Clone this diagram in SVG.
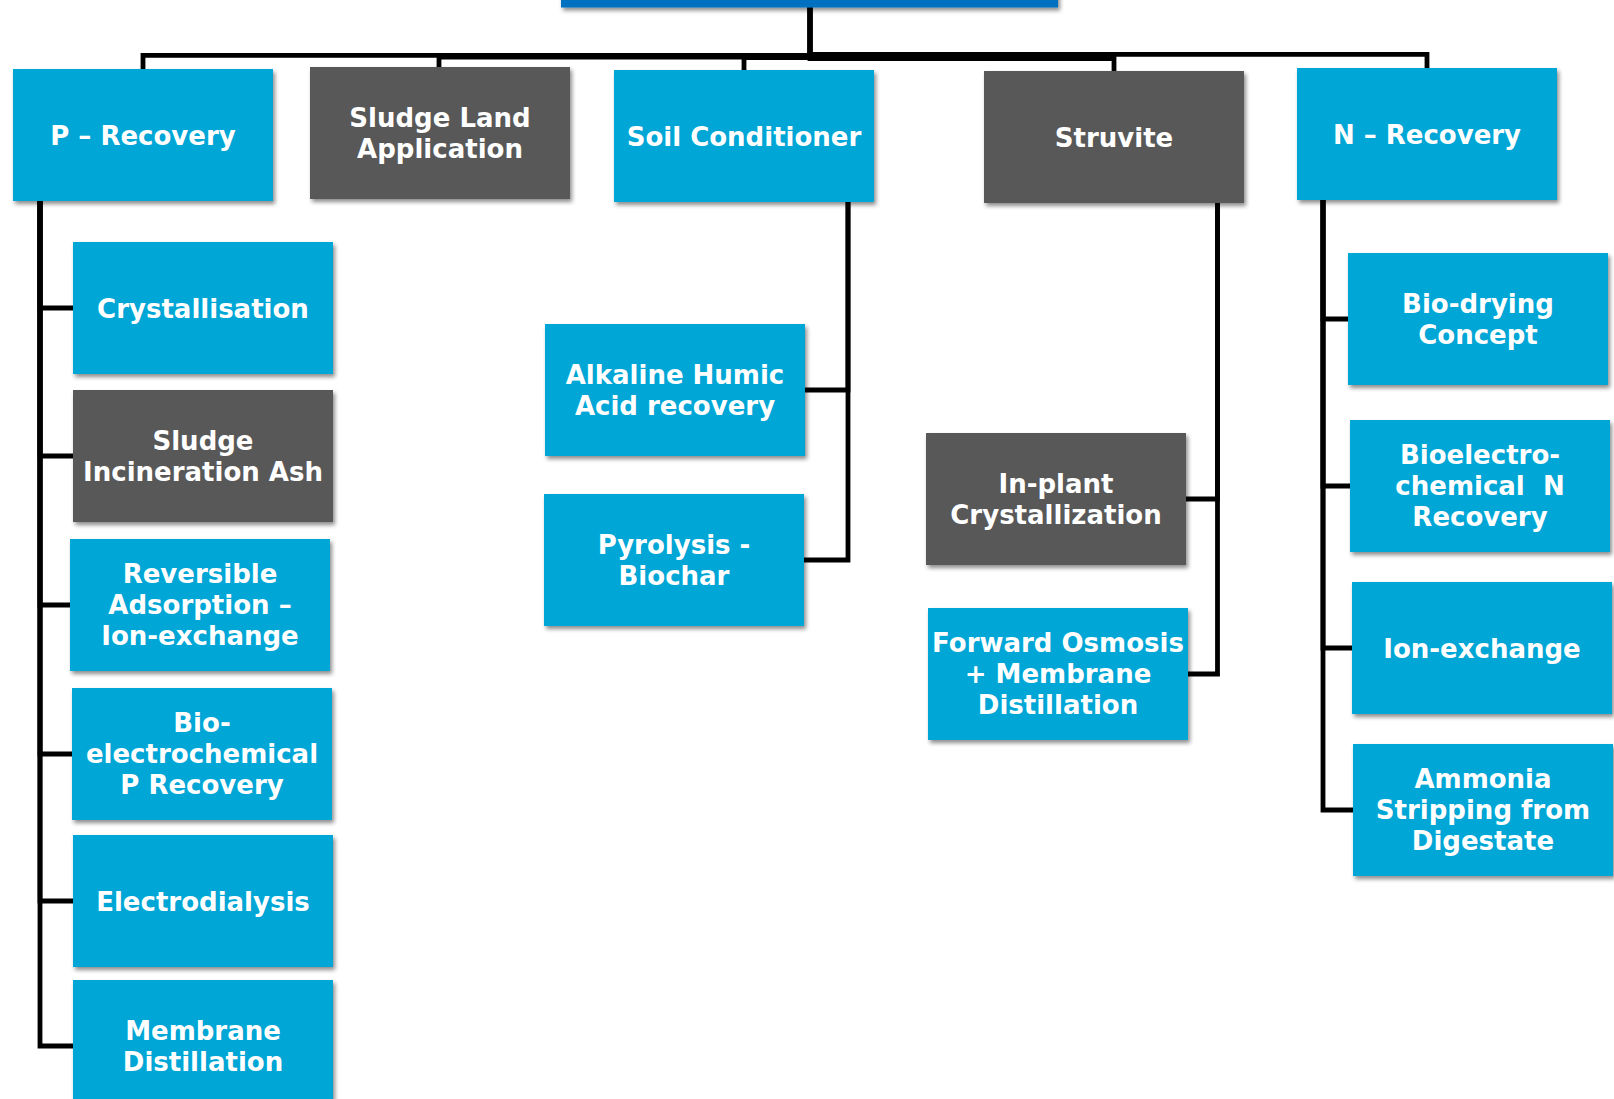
<svg xmlns="http://www.w3.org/2000/svg" width="1614" height="1099" viewBox="0 0 1614 1099">
  <defs>
    <filter id="shadow" x="-10%" y="-10%" width="125%" height="130%">
      <feDropShadow dx="2" dy="3" stdDeviation="2.2" flood-color="#000" flood-opacity="0.45"/>
    </filter>
  </defs>
  <style>
    .box { filter: url(#shadow); }
    .blue { fill: #00A6D6; }
    .grey { fill: #595959; }
    .top { fill: #0070C0; }
    .label { fill: #fff; font-family: "DejaVu Sans", Verdana, sans-serif; font-weight: bold; font-size: 26px; text-anchor: middle; }
    .wire { fill: none; stroke: #000; stroke-width: 4.8; stroke-linejoin: miter; stroke-linecap: butt; }
  </style>

  <!-- connectors -->
  <g id="connectors">
    <!-- root to first level -->
    <path class="wire" d="M810,7 V55.3 H143 V69"/>
    <path class="wire" d="M810,7 V57 H439 V67"/>
    <path class="wire" d="M810,7 V57.5 H744 V70"/>
    <path class="wire" d="M810,7 V58.5 H1114 V71"/>
    <path class="wire" d="M810,7 V54.3 H1427 V68"/>
    <!-- P recovery branch -->
    <path class="wire" d="M40,201 V308 H73"/>
    <path class="wire" d="M40,201 V456 H73"/>
    <path class="wire" d="M40,201 V605 H70"/>
    <path class="wire" d="M40,201 V754 H72"/>
    <path class="wire" d="M40,201 V901 H73"/>
    <path class="wire" d="M40,201 V1046 H73"/>
    <!-- soil conditioner branch -->
    <path class="wire" d="M848,202 V390 H805"/>
    <path class="wire" d="M848,202 V560 H804"/>
    <!-- struvite branch -->
    <path class="wire" d="M1217.5,203 V499 H1186"/>
    <path class="wire" d="M1217.5,203 V674 H1188"/>
    <!-- N recovery branch -->
    <path class="wire" d="M1323,200 V319 H1348"/>
    <path class="wire" d="M1323,200 V486 H1350"/>
    <path class="wire" d="M1323,200 V648 H1352"/>
    <path class="wire" d="M1323,200 V810 H1353"/>
  </g>

  <!-- root -->
  <g id="root">
    <rect class="box top" x="561" y="-120" width="497" height="127.5"/>
  </g>

  <!-- first level -->
  <g id="p-recovery">
    <rect class="box blue" x="13" y="69" width="260" height="132"/>
    <text class="label" x="143" y="144.5">P – Recovery</text>
  </g>
  <g id="sludge-land">
    <rect class="box grey" x="310" y="67" width="260" height="132"/>
    <text class="label" x="440" y="127">Sludge Land</text>
    <text class="label" x="440" y="158">Application</text>
  </g>
  <g id="soil-conditioner">
    <rect class="box blue" x="614" y="70" width="260" height="132"/>
    <text class="label" x="744" y="145.5">Soil Conditioner</text>
  </g>
  <g id="struvite">
    <rect class="box grey" x="984" y="71" width="260" height="132"/>
    <text class="label" x="1114" y="146.5">Struvite</text>
  </g>
  <g id="n-recovery">
    <rect class="box blue" x="1297" y="68" width="260" height="132"/>
    <text class="label" x="1427" y="143.5">N – Recovery</text>
  </g>

  <!-- P recovery children -->
  <g id="crystallisation">
    <rect class="box blue" x="73" y="242" width="260" height="132"/>
    <text class="label" x="203" y="317.5">Crystallisation</text>
  </g>
  <g id="sludge-ash">
    <rect class="box grey" x="73" y="390" width="260" height="132"/>
    <text class="label" x="203" y="450">Sludge</text>
    <text class="label" x="203" y="481">Incineration Ash</text>
  </g>
  <g id="reversible-adsorption">
    <rect class="box blue" x="70" y="539" width="260" height="132"/>
    <text class="label" x="200" y="583">Reversible</text>
    <text class="label" x="200" y="614">Adsorption –</text>
    <text class="label" x="200" y="645">Ion-exchange</text>
  </g>
  <g id="bio-p">
    <rect class="box blue" x="72" y="688" width="260" height="132"/>
    <text class="label" x="202" y="732">Bio-</text>
    <text class="label" x="202" y="763">electrochemical</text>
    <text class="label" x="202" y="794">P Recovery</text>
  </g>
  <g id="electrodialysis">
    <rect class="box blue" x="73" y="835" width="260" height="132"/>
    <text class="label" x="203" y="910.5">Electrodialysis</text>
  </g>
  <g id="membrane-distillation">
    <rect class="box blue" x="73" y="980" width="260" height="132"/>
    <text class="label" x="203" y="1040">Membrane</text>
    <text class="label" x="203" y="1071">Distillation</text>
  </g>

  <!-- soil conditioner children -->
  <g id="humic-acid">
    <rect class="box blue" x="545" y="324" width="260" height="132"/>
    <text class="label" x="675" y="384">Alkaline Humic</text>
    <text class="label" x="675" y="415">Acid recovery</text>
  </g>
  <g id="pyrolysis">
    <rect class="box blue" x="544" y="494" width="260" height="132"/>
    <text class="label" x="674" y="554">Pyrolysis -</text>
    <text class="label" x="674" y="585">Biochar</text>
  </g>

  <!-- struvite children -->
  <g id="in-plant">
    <rect class="box grey" x="926" y="433" width="260" height="132"/>
    <text class="label" x="1056" y="493">In-plant</text>
    <text class="label" x="1056" y="524">Crystallization</text>
  </g>
  <g id="forward-osmosis">
    <rect class="box blue" x="928" y="608" width="260" height="132"/>
    <text class="label" x="1058" y="652">Forward Osmosis</text>
    <text class="label" x="1058" y="683">+ Membrane</text>
    <text class="label" x="1058" y="714">Distillation</text>
  </g>

  <!-- N recovery children -->
  <g id="bio-drying">
    <rect class="box blue" x="1348" y="253" width="260" height="132"/>
    <text class="label" x="1478" y="313">Bio-drying</text>
    <text class="label" x="1478" y="344">Concept</text>
  </g>
  <g id="bio-n">
    <rect class="box blue" x="1350" y="420" width="260" height="132"/>
    <text class="label" x="1480" y="464">Bioelectro-</text>
    <text class="label" x="1480" y="495">chemical&#160; N</text>
    <text class="label" x="1480" y="526">Recovery</text>
  </g>
  <g id="ion-exchange">
    <rect class="box blue" x="1352" y="582" width="260" height="132"/>
    <text class="label" x="1482" y="657.5">Ion-exchange</text>
  </g>
  <g id="ammonia-stripping">
    <rect class="box blue" x="1353" y="744" width="260" height="132"/>
    <text class="label" x="1483" y="788">Ammonia</text>
    <text class="label" x="1483" y="819">Stripping from</text>
    <text class="label" x="1483" y="850">Digestate</text>
  </g>
</svg>
